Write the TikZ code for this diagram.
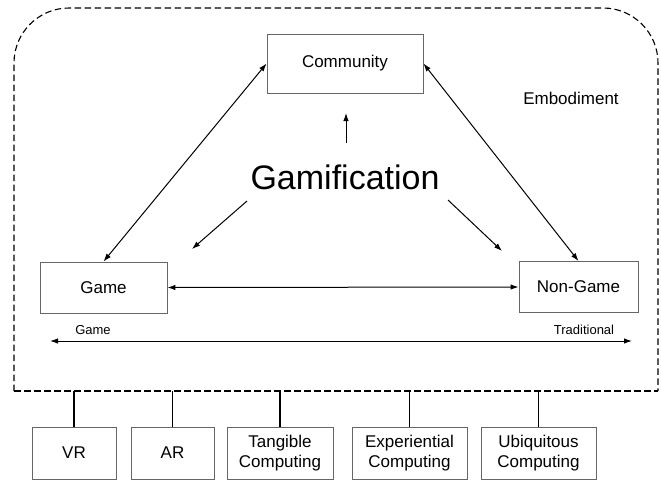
\documentclass[tikz,border=0pt]{standalone}
\usepackage{fontspec}
\setmainfont{Liberation Sans}
\usetikzlibrary{arrows.meta}
\begin{document}
\begin{tikzpicture}[x=1pt,y=-1pt,
  box/.style={draw=black!60, line width=0.9pt, inner sep=0pt, align=center,
    font=\fontsize{17}{20}\selectfont},
  lbl/.style={inner sep=0pt, font=\fontsize{17}{20}\selectfont},
  small/.style={inner sep=0pt, font=\fontsize{13}{15}\selectfont},
  arr/.style={-{Latex[length=8pt,width=5.5pt]}, line width=1pt},
  darr/.style={{Latex[length=8pt,width=5.5pt]}-{Latex[length=8pt,width=5.5pt]}, line width=1pt},
  frameline/.style={dashed, dash pattern=on 6.5pt off 3.5pt, line width=1.1pt},
  conn/.style={line width=1.1pt}]
\useasboundingbox (0,0) rectangle (661,480);

% Embodiment dashed frame
\draw[frameline, rounded corners=55pt] (14,391) -- (14,8) -- (658,8) -- (658,391);
\draw[frameline] (14,391) -- (658,391);
\coordinate (eb) at (0,391);

% main nodes
\node[box, minimum width=156pt, minimum height=59pt] (comm) at (345,63.5) {Community};
\node[box, minimum width=127pt, minimum height=51pt] (game) at (103.5,287.5) {Game};
\node[box, minimum width=119pt, minimum height=51pt] (nongame) at (578.5,287) {Non-Game};
\node[inner sep=0pt, font=\fontsize{34}{40}\selectfont] (gam) at (345,177) {Gamification};
\node[lbl] (emb) at (571,98) {Embodiment};

% triangle connectors
\draw[darr] (game.north) -- (comm.west);
\draw[darr] (nongame.north) -- (comm.east);
\draw[darr] (game.east) -- (nongame.west);

% gamification arrows
\coordinate (gu0) at (346,143); \coordinate (gu1) at (346,113);
\coordinate (gl0) at (247,201); \coordinate (gl1) at (192,249);
\coordinate (gr0) at (448,200); \coordinate (gr1) at (502,251);
\draw[arr] (gu0) -- (gu1);
\draw[arr] (gl0) -- (gl1);
\draw[arr] (gr0) -- (gr1);

% spectrum
\coordinate (sl) at (50,341); \coordinate (sr) at (632,341);
\draw[darr] (sl) -- (sr);
\node[small] (sgame) at (93,330) {Game};
\node[small] (strad) at (584,330) {Traditional};

% bottom boxes
\node[box, minimum width=84pt, minimum height=52pt] (vr) at (74,453) {VR};
\node[box, minimum width=83pt, minimum height=52pt] (ar) at (172.5,453) {AR};
\node[box, minimum width=106pt, minimum height=52pt] (tc) at (280,453) {Tangible\\Computing};
\node[box, minimum width=115pt, minimum height=52pt] (ec) at (409.5,453) {Experiential\\Computing};
\node[box, minimum width=115pt, minimum height=52pt] (uc) at (538.5,453) {Ubiquitous\\Computing};

\foreach \n in {vr,ar,tc,ec,uc}
  \draw[conn] (\n.north) -- (\n.north |- eb);
\end{tikzpicture}
\end{document}
